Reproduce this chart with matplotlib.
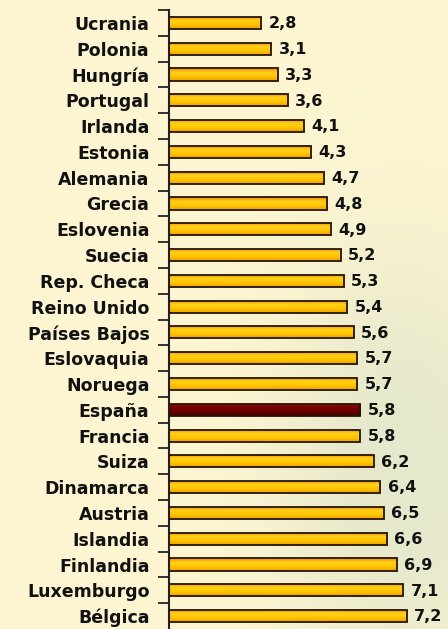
import numpy as np
import matplotlib.pyplot as plt
from matplotlib.colors import LinearSegmentedColormap

paises = ['Ucrania', 'Polonia', 'Hungría', 'Portugal', 'Irlanda', 'Estonia',
          'Alemania', 'Grecia', 'Eslovenia', 'Suecia', 'Rep. Checa', 'Reino Unido',
          'Países Bajos', 'Eslovaquia', 'Noruega', 'España', 'Francia', 'Suiza',
          'Dinamarca', 'Austria', 'Islandia', 'Finlandia', 'Luxemburgo', 'Bélgica']
valores = [2.8, 3.1, 3.3, 3.6, 4.1, 4.3, 4.7, 4.8, 4.9, 5.2, 5.3, 5.4,
           5.6, 5.7, 5.7, 5.8, 5.8, 6.2, 6.4, 6.5, 6.6, 6.9, 7.1, 7.2]
destacado = 'España'

fig = plt.figure(figsize=(4.48, 6.29), dpi=100)
fig.patch.set_facecolor('#FDF5CF')

# soft background tint (lower right greenish)
bg = fig.add_axes([0, 0, 1, 1], zorder=-1)
yy, xx = np.mgrid[0:1:200j, 0:1:200j]
tint = np.clip(1.1 * np.exp(-((xx - 0.9) ** 2 / 0.08 + (yy - 0.25) ** 2 / 0.12)), 0, 1)
base = np.array([254, 246, 210]) / 255
green = np.array([230, 232, 204]) / 255
img = base * (1 - tint[..., None]) + green * tint[..., None]
bg.imshow(img, extent=[0, 1, 0, 1], origin='lower', aspect='auto')
bg.axis('off')

ax = fig.add_axes([0.377, 0.0, 0.623, 0.984])
ax.set_facecolor('none')

y = np.arange(len(paises))
h = 0.47
amarillo = LinearSegmentedColormap.from_list('am', ['#F08A00', '#FFD21A', '#FFC400', '#F0A000'])
granate = LinearSegmentedColormap.from_list('gr', ['#9A1010', '#7A0000', '#660000', '#4A0000'])

bars = ax.barh(y, valores, height=h, color='none', edgecolor='#241500', linewidth=1.3, zorder=3)
grad = np.linspace(0, 1, 50).reshape(-1, 1)
for b, p in zip(bars, paises):
    cmap = granate if p == destacado else amarillo
    x0, y0 = b.get_x(), b.get_y()
    im = ax.imshow(grad, cmap=cmap, aspect='auto', zorder=2,
                   extent=[x0, x0 + b.get_width(), y0 + b.get_height(), y0])
    im.set_clip_path(b)

for yi, v in zip(y, valores):
    ax.text(v + 0.22, yi + 0.03, f'{v:.1f}'.replace('.', ','), va='center', ha='left',
            fontsize=11.5, fontweight='bold', color='#111111')

ax.set_xlim(0, 8.45)
ax.set_ylim(23.5, -0.5)
ax.set_yticks(y)
ax.set_yticklabels(paises, fontsize=12.5, fontweight='bold', color='#111111')
ax.set_yticks(np.arange(-0.5, 23, 1), minor=True)
ax.tick_params(axis='y', which='major', length=0, pad=14)
ax.tick_params(axis='y', which='minor', length=8, width=1.3, color='#222222')
ax.set_xticks([])
for s in ['top', 'right', 'bottom']:
    ax.spines[s].set_visible(False)
ax.spines['left'].set_linewidth(1.5)
ax.spines['left'].set_color('#222222')

fig.savefig('out.png', dpi=100, facecolor=fig.get_facecolor())
